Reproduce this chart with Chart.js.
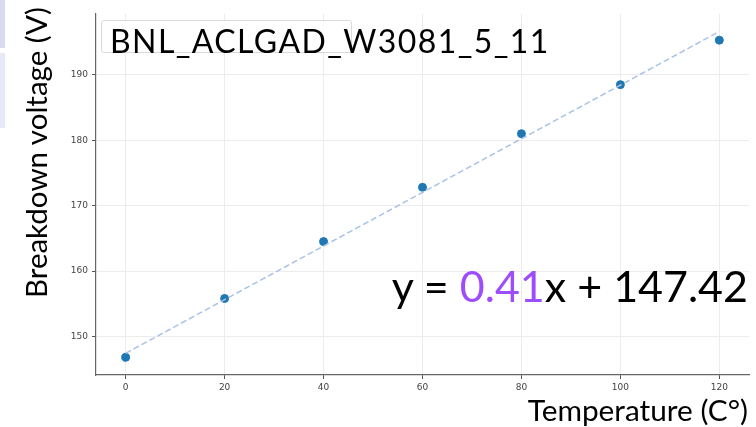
<!DOCTYPE html>
<html>
<head>
<meta charset="utf-8">
<script src="https://cdn.jsdelivr.net/npm/chart.js@4.4.1/dist/chart.umd.min.js"></script>
<style>
  body { margin: 0; background: #fff; }
  #wrap { position: relative; width: 756px; height: 427px; overflow: hidden; }
  #plot { position: absolute; left: 0; top: 0; }
  .tab { position: absolute; left: 0; width: 5px; }
  .note { position: absolute; font-family: 'Lato', 'Open Sans', sans-serif; color: #000; line-height: 1; white-space: nowrap; }
  #legendBox { position: absolute; left: 101px; top: 20px; width: 249px; height: 31px;
               border: 1px solid #dadada; border-radius: 3px; background: rgba(255,255,255,0.85); }
</style>
</head>
<body>
<div id="wrap">
  <canvas id="plot" width="756" height="427"></canvas>
  <div class="tab" style="top:0;height:48px;background:#d7daf0;"></div>
  <div class="tab" style="top:53px;height:75px;background:#e7e9f6;"></div>
  <div id="legendBox"></div>
  <div class="note" id="sample" style="left:110px;top:25px;font-size:32px;letter-spacing:1.4px;">BNL_ACLGAD_W3081_5_11</div>
  <div class="note" id="fitText" style="right:8px;top:264px;font-size:43px;">y = <span style="color:#9d4dfb;">0.41</span>x + 147.42</div>
  <div class="note" id="xTitle" style="right:8px;top:395px;font-size:29.8px;">Temperature (C°)</div>
  <div class="note" id="yTitle" style="left:20.5px;top:298px;font-size:29.5px;transform-origin:left top;transform:rotate(-90deg);">Breakdown voltage (V)</div>
</div>
<script>
// measured breakdown voltage vs. temperature
const temperatures = [0, 20, 40, 60, 80, 100, 120];
const breakdownVoltages = [146.8, 155.8, 164.5, 172.8, 181.0, 188.5, 195.3];

// linear fit printed on the plot
const fitSlope = 0.41;
const fitIntercept = 147.42;

const xTickValues = [0, 20, 40, 60, 80, 100, 120];
const yTickValues = [150, 160, 170, 180, 190];

const points = temperatures.map((t, i) => ({ x: t, y: breakdownVoltages[i] }));
const fitEnds = [temperatures[0], temperatures[temperatures.length - 1]];
const fitLine = fitEnds.map(t => ({ x: t, y: fitSlope * t + fitIntercept }));

const tickFont = { family: 'DejaVu Sans', size: 9 };

new Chart(document.getElementById('plot'), {
    type: 'scatter',
    data: {
        datasets: [
            {
                label: 'fit',
                data: fitLine,
                showLine: true,
                borderColor: '#a9c3e6',
                borderWidth: 1.5,
                borderDash: [6, 3],
                pointRadius: 0,
            },
            {
                label: 'BNL_ACLGAD_W3081_5_11',
                data: points,
                backgroundColor: '#1f77b4',
                borderColor: '#1f77b4',
                pointRadius: 4,
                pointHoverRadius: 4,
            },
        ],
    },
    options: {
        responsive: false,
        animation: false,
        layout: { padding: { top: 14, right: 7, left: 0, bottom: 0 } },
        plugins: { legend: { display: false }, tooltip: { enabled: false } },
        scales: {
            x: {
                type: 'linear',
                min: -6,
                max: 126,
                afterBuildTicks: (s) => { s.ticks = xTickValues.map(v => ({ value: v })); },
                afterFit: (s) => { s.height = 52; },
                ticks: { font: tickFont, color: '#444', padding: 3 },
                grid: { color: '#ececec', tickColor: '#555', tickLength: 4 },
                border: { color: '#666', width: 1.2 },
            },
            y: {
                type: 'linear',
                min: 144.1,
                max: 199.3,
                afterBuildTicks: (s) => { s.ticks = yTickValues.map(v => ({ value: v })); },
                afterFit: (s) => { s.width = 96; },
                ticks: { font: tickFont, color: '#444', padding: 4 },
                grid: { color: '#ececec', tickColor: '#555', tickLength: 4 },
                border: { color: '#666', width: 1.2 },
            },
        },
    },
});
</script>
</body>
</html>
